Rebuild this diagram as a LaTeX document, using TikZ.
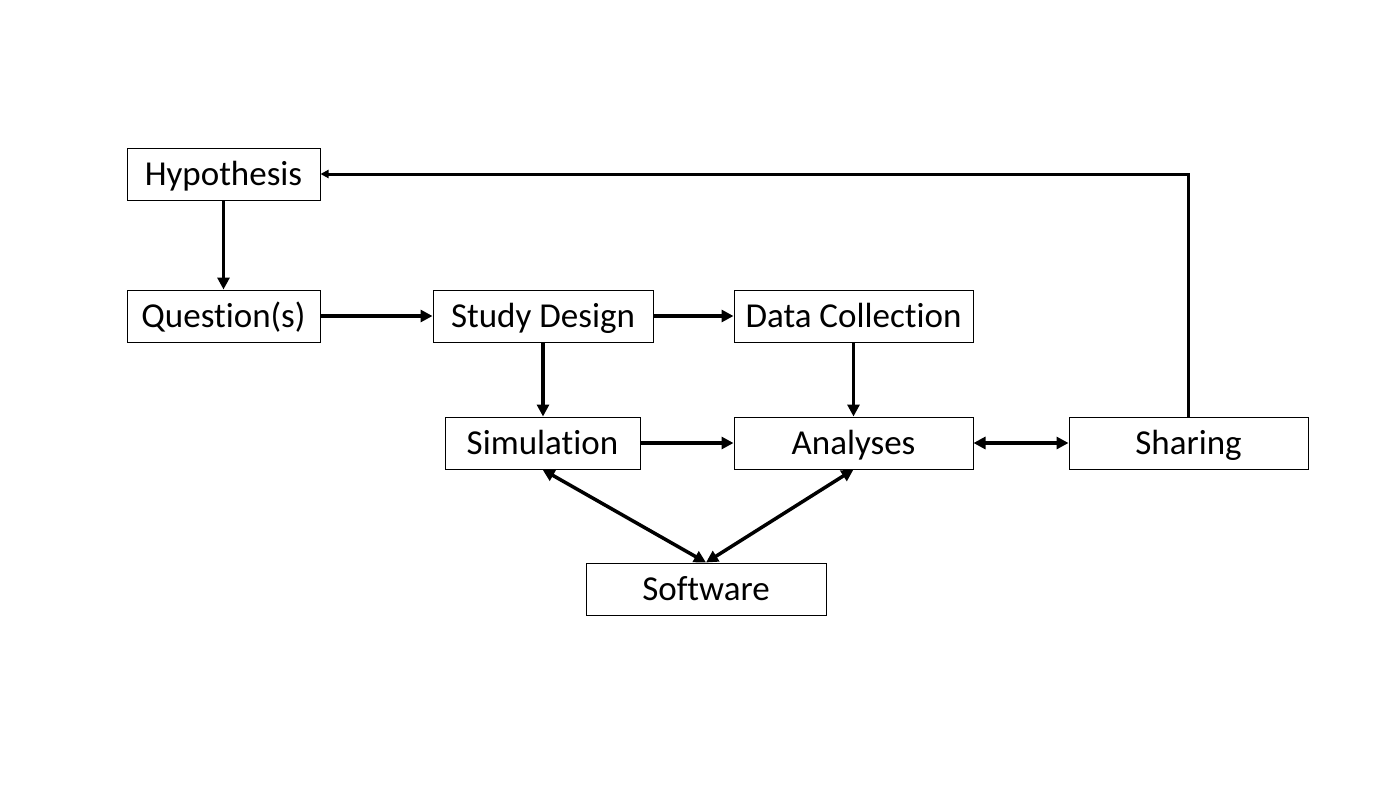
\documentclass[tikz,border=0pt]{standalone}
\usepackage{fontspec}
\setmainfont{Carlito}[Ligatures=NoCommon]
\usetikzlibrary{arrows.meta}
\begin{document}
\begin{tikzpicture}[x=1pt,y=-1pt,
  box/.style={draw=black,line width=1pt,minimum height=52pt,inner sep=0pt,text height=27pt,text depth=4pt,font=\fontsize{35}{41}\selectfont,anchor=center},
  conn/.style={line width=3.5pt,-{Triangle[length=12pt,width=12pt]}},
  bicon/.style={line width=3.5pt,{Triangle[length=12pt,width=12pt]}-{Triangle[length=12pt,width=12pt]}},
  back/.style={line width=3pt,-{Triangle[length=8pt,width=8pt]}}]
\useasboundingbox[fill=white] (0,0) rectangle (1400,788);
\node[box,minimum width=193pt] (hyp) at (223.5,174) {Hypothesis};
\node[box,minimum width=193pt] (que) at (223.5,316) {Question(s)};
\node[box,minimum width=220pt] (sd) at (543,316) {Study Design};
\node[box,minimum width=239pt] (dc) at (853.5,316) {Data Collection};
\node[box,minimum width=195pt] (sim) at (542.5,443) {Simulation};
\node[box,minimum width=239pt] (ana) at (853.5,443) {Analyses};
\node[box,minimum width=239pt] (sha) at (1188.5,443) {Sharing};
\node[box,minimum width=240pt] (sw) at (706,589) {Software};
\draw[conn] (hyp) -- (que);
\draw[conn] (que) -- (sd);
\draw[conn] (sd) -- (dc);
\draw[conn] (sd.south) -- (sd.south |- sim.north);
\draw[conn] (dc) -- (ana);
\draw[conn] (sim) -- (ana);
\draw[bicon] (ana) -- (sha);
\draw[bicon] (sim.south) -- (sw.north);
\draw[bicon] (ana.south) -- (sw.north);
\draw[back] (sha.north) |- (hyp.east);
\end{tikzpicture}
\end{document}
